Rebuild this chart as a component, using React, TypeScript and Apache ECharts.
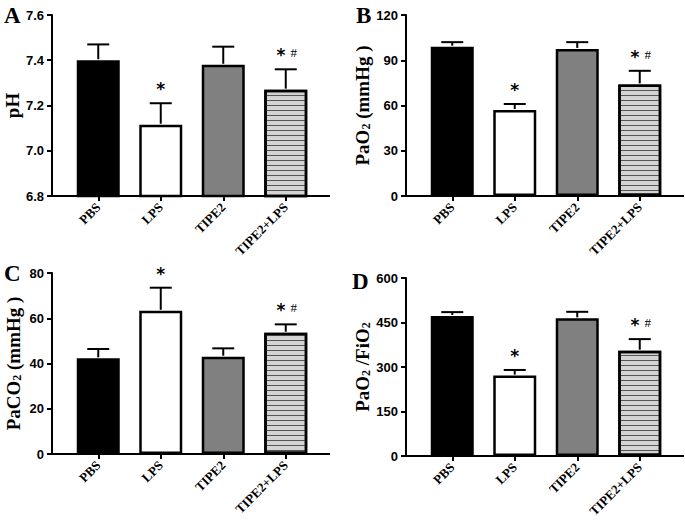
import React, { useEffect, useRef } from "react";
import * as echarts from "echarts";

const categories = ["PBS", "LPS", "TIPE2", "TIPE2+LPS"];

const phMean = [7.4, 7.115, 7.38, 7.27];
const phUpper = [7.47, 7.21, 7.46, 7.36];
const pao2Mean = [99, 57, 97.5, 74];
const pao2Upper = [102, 61, 102, 83];
const paco2Mean = [42.3, 63.3, 43, 53.6];
const paco2Upper = [46.4, 73.5, 46.7, 57.3];
const ratioMean = [472, 271, 464, 355];
const ratioUpper = [485, 290, 486, 394];

const marks = ["", "*", "", "*#"];

const yTicksA = { min: 6.8, max: 7.6, interval: 0.2 };
const yTicksB = { min: 0, max: 120, interval: 30 };
const yTicksC = { min: 0, max: 80, interval: 20 };
const yTicksD = { min: 0, max: 600, interval: 150 };

const fills = ["#000000", "#ffffff", "#808080", "#d4d4d4"];

const panels = [
  { letter: "A", mean: phMean, upper: phUpper, ticks: yTicksA, dec: 1, name: "{m|pH}", left: 67, top: 15, height: 181, letterX: 4, letterY: 4 },
  { letter: "B", mean: pao2Mean, upper: pao2Upper, ticks: yTicksB, dec: 0, name: "{m|PaO}{s|2}{m| (mmHg )}", left: 421, top: 15, height: 181, letterX: 356, letterY: 4 },
  { letter: "C", mean: paco2Mean, upper: paco2Upper, ticks: yTicksC, dec: 0, name: "{m|PaCO}{s|2}{m| (mmHg )}", left: 67, top: 273, height: 181, letterX: 4, letterY: 262 },
  { letter: "D", mean: ratioMean, upper: ratioUpper, ticks: yTicksD, dec: 0, name: "{m|PaO}{s|2}{m| /FiO}{s|2}", left: 421, top: 278, height: 178, letterX: 352, letterY: 270 },
];

const GRID_W = 250;
const Y_OFFSET = 15;
const X_EXT_RIGHT = 13;

export default function App() {
  const ref = useRef<HTMLDivElement>(null);
  useEffect(() => {
    document.body.style.margin = "0";
    if (!ref.current) return;
    const chart = echarts.init(ref.current, null, { renderer: "svg" });

    const grid: any[] = [];
    const xAxis: any[] = [];
    const yAxis: any[] = [];
    const series: any[] = [];
    const graphic: any[] = [];

    panels.forEach((p, i) => {
      grid.push({ left: p.left, top: p.top, width: GRID_W, height: p.height, containLabel: false });
      xAxis.push({
        type: "category",
        gridIndex: i,
        data: categories,
        axisLine: { show: false },
        axisTick: { show: true, alignWithLabel: true, length: 5, lineStyle: { color: "#000", width: 2 } },
        axisLabel: {
          rotate: 45,
          margin: 9,
          color: "#000",
          fontFamily: "Liberation Serif",
          fontWeight: "bold",
          fontSize: 13,
          interval: 0,
        },
      });
      yAxis.push({
        type: "value",
        gridIndex: i,
        min: p.ticks.min,
        max: p.ticks.max,
        interval: p.ticks.interval,
        offset: Y_OFFSET,
        splitLine: { show: false },
        axisLine: { show: true, lineStyle: { color: "#000", width: 2 } },
        axisTick: { show: true, length: 5, lineStyle: { color: "#000", width: 2 } },
        axisLabel: {
          color: "#000",
          fontFamily: "Liberation Sans",
          fontWeight: "bold",
          fontSize: 13,
          margin: 8,
          formatter: (v: number) => v.toFixed(p.dec),
        },
        name: p.name,
        nameLocation: "middle",
        nameGap: 29,
        nameTextStyle: {
          color: "#000",
          fontFamily: "Liberation Serif",
          fontWeight: "bold",
          fontSize: 19,
          rich: {
            m: { fontFamily: "Liberation Serif", fontWeight: "bold", fontSize: 19, color: "#000", lineHeight: 20 },
            s: { fontFamily: "Liberation Serif", fontWeight: "bold", fontSize: 12, color: "#000", verticalAlign: "bottom", lineHeight: 20, padding: [7, 0, 0, 0] },
          },
        },
      });

      series.push({
        type: "bar",
        xAxisIndex: i,
        yAxisIndex: i,
        barWidth: 43,
        data: p.mean.map((v, k) => ({
          value: v,
          itemStyle: {
            color: fills[k],
            borderColor: "#000",
            borderWidth: 2.5,
            decal:
              k === 3
                ? {
                    symbol: "rect",
                    symbolSize: 1,
                    dashArrayX: [10, 0],
                    dashArrayY: [1, 4],
                    color: "#555555",
                    rotation: 0,
                  }
                : undefined,
          },
        })),
        silent: true,
      });

      series.push({
        type: "custom",
        xAxisIndex: i,
        yAxisIndex: i,
        z: 3,
        data: p.mean.map((v, k) => [k, v, p.upper[k]]),
        renderItem: (params: any, api: any) => {
          const base = api.coord([api.value(0), api.value(1)]);
          const top = api.coord([api.value(0), api.value(2)]);
          return {
            type: "group",
            children: [
              { type: "line", shape: { x1: base[0], y1: base[1] - 1, x2: top[0], y2: top[1] }, style: { stroke: "#000", lineWidth: 2 } },
              { type: "line", shape: { x1: top[0] - 11, y1: top[1], x2: top[0] + 11, y2: top[1] }, style: { stroke: "#000", lineWidth: 2 } },
            ],
          };
        },
      });

      series.push({
        type: "custom",
        xAxisIndex: i,
        yAxisIndex: i,
        z: 4,
        data: p.upper.map((v, k) => [k, v]),
        renderItem: (params: any, api: any) => {
          const m = marks[params.dataIndex];
          if (!m) return null;
          const pt = api.coord([api.value(0), api.value(1)]);
          const txt = m === "*#" ? "{a|*}{g| }{b|#}" : "{a|*}";
          return {
            type: "text",
            x: pt[0] + (m === "*#" ? 1 : 0),
            y: pt[1] - 14,
            style: {
              text: txt,
              align: "center",
              verticalAlign: "middle",
              rich: {
                a: { fontFamily: "DejaVu Sans", fontWeight: "bold", fontSize: 17, color: "#333", lineHeight: 20, verticalAlign: "middle" },
                g: { fontSize: 8, lineHeight: 20, width: 5, verticalAlign: "middle" },
                b: { fontFamily: "Liberation Serif", fontSize: 13, color: "#666", lineHeight: 20, verticalAlign: "middle", padding: [0, 0, 5, 0] },
              },
            },
          };
        },
      });

      const yBottom = p.top + p.height;
      graphic.push({
        type: "line",
        shape: { x1: p.left - Y_OFFSET - 1, y1: yBottom, x2: p.left + GRID_W + X_EXT_RIGHT, y2: yBottom },
        style: { stroke: "#000", lineWidth: 2 },
        z: 10,
      });
      graphic.push({
        type: "text",
        x: p.letterX,
        y: p.letterY,
        style: {
          text: p.letter,
          fontFamily: "Liberation Serif",
          fontWeight: "bold",
          fontSize: 23,
          fill: "#000",
          textVerticalAlign: "top",
        },
      });
    });

    chart.setOption({
      animation: false,
      backgroundColor: "#ffffff",
      grid,
      xAxis,
      yAxis,
      series,
      graphic,
    });
    return () => chart.dispose();
  }, []);
  return <div ref={ref} style={{ width: 685, height: 523 }} />;
}
